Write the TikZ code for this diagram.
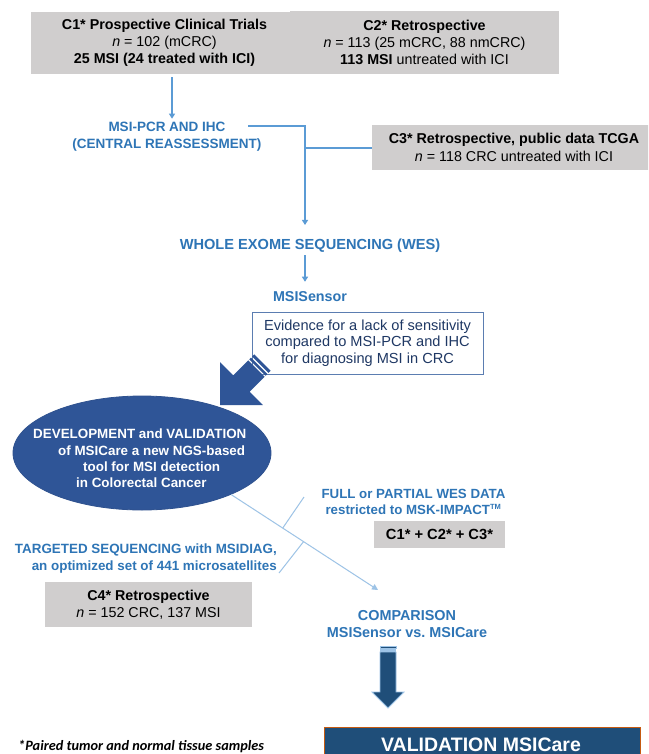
\documentclass[tikz,border=0pt]{standalone}
\usepackage{fontspec}
\setmainfont{Liberation Sans}
\newfontfamily\carlito{Carlito}
\usetikzlibrary{arrows.meta,shapes.geometric,calc}
\definecolor{boxgray}{HTML}{D0CECE}
\definecolor{txtblue}{HTML}{2E75B6}
\definecolor{lineblue}{HTML}{5B9BD5}
\definecolor{lightblue}{HTML}{9DC3E6}
\definecolor{navy}{HTML}{1F3864}
\definecolor{arrowblue}{HTML}{2F5597}
\definecolor{ellborder}{HTML}{2F528F}
\definecolor{darknavy}{HTML}{1F4E79}
\definecolor{orangeb}{HTML}{C55A11}
\definecolor{evborder}{HTML}{5B7DB1}
\frenchspacing
\begin{document}
\begin{tikzpicture}[x=1pt,y=-1pt,
  graybox/.style={fill=boxgray, draw=none, inner sep=0pt, align=center, font=\fontsize{14.3}{17.3}\selectfont},
  bluelabel/.style={text=txtblue, inner sep=0pt, align=center},
  conn/.style={draw=lineblue, line width=1.1pt},
  connarrow/.style={conn, -{Triangle[length=5pt,width=6pt]}},
  diag/.style={draw=lightblue, line width=1pt},
  evidence/.style={draw=evborder, line width=0.9pt, fill=white, inner sep=0pt, align=center, text=navy, font=\fontsize{14.6}{16.5}\selectfont},
]
\clip (0,0) rectangle (648,754);
\fill[white] (0,0) rectangle (648,754);

% grey boxes
\node[graybox, minimum width=267pt, minimum height=62pt] (c1) at (164.5,43)
  {\textbf{C1* Prospective Clinical Trials}\\ \textit{n} = 102 (mCRC)\\ \textbf{25 MSI (24 treated with ICI)}};
\node[graybox, minimum width=269pt, minimum height=63pt] (c2) at (424.5,42.5)
  {\textbf{C2* Retrospective}\\ \textit{n} = 113 (25 mCRC, 88 nmCRC)\\ \textbf{113 MSI} untreated with ICI};
\node[graybox, minimum width=284pt, minimum height=45pt] (c3) at (514,147.5)
  {\textbf{C3* Retrospective, public data TCGA}\\ \textit{n} = 118 CRC untreated with ICI};
\node[graybox, minimum width=207pt, minimum height=45pt] (c4) at (148.5,604.5)
  {\textbf{C4* Retrospective}\\ \textit{n} = 152 CRC, 137 MSI};
\node[graybox, minimum width=131pt, minimum height=27pt, font=\fontsize{14.7}{17}\selectfont\bfseries] (c123) at (439.5,534.5)
  {C1* + C2* + C3*};

% blue labels
\node[bluelabel, font=\fontsize{13.5}{17}\selectfont\bfseries] (pcr) at (167,136.5)
  {MSI-PCR AND IHC\\(CENTRAL REASSESSMENT)};
\node[bluelabel, font=\fontsize{14.6}{17}\selectfont\bfseries] (wes) at (310,246)
  {WHOLE EXOME SEQUENCING (WES)};
\node[bluelabel, font=\fontsize{14.3}{17}\selectfont\bfseries] (msis) at (310,297)
  {MSISensor};
\node[bluelabel, font=\fontsize{13.3}{16}\selectfont\bfseries] (full) at (413.5,502)
  {FULL or PARTIAL WES DATA\\restricted to MSK-IMPACT\textsuperscript{\fontsize{7.5}{8}\selectfont TM}};
\node[bluelabel, align=right, anchor=east, font=\fontsize{13.4}{17}\selectfont\bfseries] (targ) at (277,558.5)
  {TARGETED SEQUENCING with MSIDIAG,\\an optimized set of 441 microsatellites};
\node[bluelabel, font=\fontsize{14.4}{17}\selectfont\bfseries] (cmp) at (407,624.5)
  {COMPARISON\\MSISensor vs. MSICare};

% evidence box
\node[evidence, minimum width=231pt, minimum height=62pt] (ev) at (367.5,343)
  {Evidence for a lack of sensitivity\\compared to MSI-PCR and IHC\\for diagnosing MSI in CRC};

% big striped arrow towards ellipse
\begin{scope}[shift={(220,405)}, x={(0.7071pt,0.7071pt)}, y={(0.7071pt,-0.7071pt)}]
  \fill[arrowblue] (0,0) -- (30.4,30.4) -- (30.4,11.5) -- (51.5,11.5) -- (51.5,-11.5) -- (30.4,-11.5) -- (30.4,-30.4) -- cycle;
  \fill[arrowblue] (53,11.5) -- (55.5,11.5) -- (55.5,-11.5) -- (53,-11.5) -- cycle;
  \fill[arrowblue] (57,11.5) -- (60,11.5) -- (60,-11.5) -- (57,-11.5) -- cycle;
\end{scope}

% ellipse
\node[ellipse, fill=arrowblue, draw=ellborder, line width=0.8pt, minimum width=258pt, minimum height=114pt, inner sep=0pt] (ell) at (142,453) {};
\node[anchor=west, align=left, inner sep=0pt, text=white, font=\fontsize{13.4}{16.3}\selectfont\bfseries] (elltxt) at (33,458.5)
  {DEVELOPMENT and VALIDATION\\
   \hspace*{25pt}of MSICare a new NGS-based\\
   \hspace*{50pt}tool for MSI detection\\
   \hspace*{43pt}in Colorectal Cancer};

% validation box
\node[fill=darknavy, draw=orangeb, line width=1pt, minimum width=316pt, minimum height=60pt, anchor=north west, inner sep=0pt] (val) at (324,727) {};
\node[anchor=base, inner sep=0pt, text=white, font=\fontsize{19.5}{22}\selectfont\bfseries] (valt) at (481,751) {VALIDATION MSICare};

% footnote
\node[anchor=base west, inner sep=0pt, font=\carlito\bfseries\itshape\fontsize{14.3}{16}\selectfont] (fn) at (18,750.5)
  {*Paired tumor and normal tissue samples};

% connectors
\coordinate (ax) at (172,0);
\coordinate (p0) at (248,126);
\coordinate (j1) at (305,126);
\coordinate (j2) at (305,148);
\draw[connarrow, shorten <=3pt, shorten >=3pt] (c1.south -| ax) -- (pcr.north -| ax);
\draw[connarrow, shorten >=14pt] (p0) -- (j1) -- (wes.north -| j1);
\draw[conn] (j2) -- (c3.west |- j2);
\draw[connarrow, shorten <=2pt, shorten >=10pt] (wes.south -| j1) -- (msis.north -| j1);

% diagonal connector with ticks
\coordinate (d1) at (378,590);
\coordinate (t1) at (304,497);
\coordinate (t2) at (279,573);
\draw[diag, -{Triangle[length=6pt,width=6pt]}] (ell.-25) -- (d1);
\draw[diag] (t1) -- ($(ell.-25)!0.351!(d1)$);
\draw[diag] ($(ell.-25)!0.493!(d1)$) -- (t2);

% bottom striped arrow
\begin{scope}
  \filldraw[fill=darknavy, draw=lightblue, line width=0.8pt]
    (380,652) -- (396,652) -- (396,692) -- (404,692) -- (388,708) -- (372,692) -- (380,692) -- cycle;
  \filldraw[fill=darknavy, draw=lightblue, line width=0.6pt] (380,646) rectangle (396,648.3);
  \fill[lightblue] (380,648.3) rectangle (396,651.5);
\end{scope}
\end{tikzpicture}
\end{document}
